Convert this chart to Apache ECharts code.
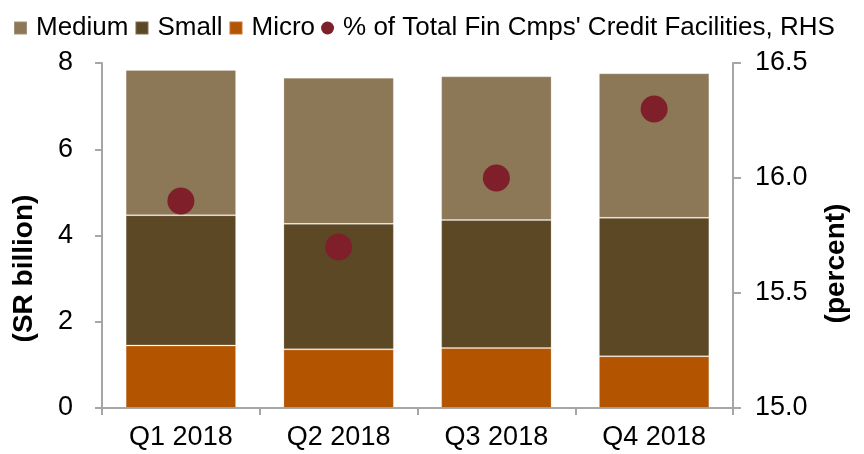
<!DOCTYPE html>
<html>
<head>
<meta charset="utf-8">
<script src="https://cdn.jsdelivr.net/npm/echarts@6/dist/echarts.min.js"></script>
<style>
html, body { margin: 0; padding: 0; background: #fff; }
#main { width: 864px; height: 454px; }
</style>
</head>
<body>
<div id="main"></div>
<script>
// data
var quarters = ['Q1 2018', 'Q2 2018', 'Q3 2018', 'Q4 2018'];
var micro = [1.45, 1.36, 1.39, 1.20];
var small = [3.02, 2.91, 2.97, 3.21];
var medium = [3.37, 3.39, 3.33, 3.35];
var shareOfFinCmps = [15.9, 15.7, 16.0, 16.3];

var myChart = echarts.init(document.getElementById('main'));

var font = 'Liberation Sans, Arial, sans-serif';
var axisGrey = '#a6a6a6';

var option = {
    animation: false,
    textStyle: { fontFamily: font },
    legend: {
        top: 10,
        left: 8,
        itemWidth: 13,
        itemHeight: 13,
        itemGap: 6,
        textStyle: { fontSize: 26, color: '#000', fontFamily: font, padding: [0, 0, 0, 4] },
        data: [
            { name: 'Medium', icon: 'rect' },
            { name: 'Small', icon: 'rect' },
            { name: 'Micro', icon: 'rect' },
            { name: "% of Total Fin Cmps' Credit Facilities, RHS", icon: 'circle', itemStyle: {} }
        ]
    },
    grid: { left: 102, right: 131, top: 63, bottom: 46 },
    xAxis: {
        type: 'category',
        data: quarters,
        axisLine: { lineStyle: { color: axisGrey, width: 2 } },
        axisTick: { show: true, length: 7, lineStyle: { color: axisGrey, width: 2 } },
        axisLabel: { color: '#000', fontSize: 27, margin: 16, fontFamily: font }
    },
    yAxis: [{
        type: 'value',
        min: 0, max: 8, interval: 2,
        name: '(SR billion)',
        nameLocation: 'middle',
        nameGap: 64,
        nameTextStyle: { fontSize: 28, fontWeight: 'bold', color: '#000', fontFamily: font, padding: [0, 66, 0, 0] },
        axisLine: { show: true, lineStyle: { color: axisGrey, width: 2 } },
        axisTick: { show: true, length: 7, lineStyle: { color: axisGrey, width: 2 } },
        axisLabel: { color: '#000', fontSize: 27, margin: 29, fontFamily: font },
        splitLine: { show: false }
    }, {
        type: 'value',
        min: 15.0, max: 16.5, interval: 0.5,
        name: '(percent)',
        nameLocation: 'middle',
        nameGap: 89,
        nameRotate: 90,
        nameTextStyle: { fontSize: 28, fontWeight: 'bold', color: '#000', fontFamily: font, padding: [0, 56, 0, 0] },
        axisLine: { show: true, lineStyle: { color: axisGrey, width: 2 } },
        axisTick: { show: true, length: 8, lineStyle: { color: axisGrey, width: 2 } },
        axisLabel: {
            color: '#000', fontSize: 27, margin: 22, fontFamily: font,
            formatter: function (v) { return v.toFixed(1); }
        },
        splitLine: { show: false }
    }],
    series: [{
        name: 'Micro',
        type: 'bar',
        stack: 'total',
        barCategoryGap: '30%',
        itemStyle: { color: '#b35400', borderColor: 'rgba(255,255,255,0.2)', borderWidth: 1 },
        data: micro
    }, {
        name: 'Small',
        type: 'bar',
        stack: 'total',
        itemStyle: { color: '#5c4825', borderColor: 'rgba(255,255,255,0.2)', borderWidth: 1 },
        data: small
    }, {
        name: 'Medium',
        type: 'bar',
        stack: 'total',
        itemStyle: { color: '#8c7757', borderColor: 'rgba(255,255,255,0.2)', borderWidth: 1 },
        data: medium
    }, {
        name: "% of Total Fin Cmps' Credit Facilities, RHS",
        type: 'scatter',
        yAxisIndex: 1,
        symbolSize: 27,
        itemStyle: { color: '#7f1f2a', opacity: 1 },
        data: shareOfFinCmps,
        z: 5
    }]
};

myChart.setOption(option);
</script>
</body>
</html>
